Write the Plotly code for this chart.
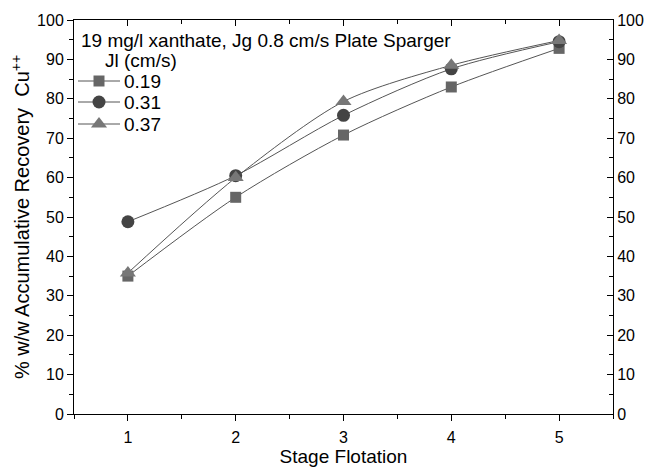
import plotly.graph_objects as go

stages = [1, 2, 3, 4, 5]
rec_019 = [35.0, 55.0, 70.8, 83.0, 92.8]
rec_031 = [48.8, 60.5, 75.8, 87.6, 94.5]
rec_037 = [35.8, 60.0, 79.3, 88.5, 94.8]
series_names = ["0.19", "0.31", "0.37"]

FONT = "Liberation Sans, Arial, sans-serif"

fig = go.Figure()
styles = [
    (rec_019, "square", "#666666", 11),
    (rec_031, "circle", "#444444", 13),
    (rec_037, "triangle-up", "#777777", 14),
]
for name, (vals, sym, col, sz) in zip(series_names, styles):
    fig.add_trace(go.Scatter(
        x=stages, y=vals, name=name, mode="lines+markers", showlegend=False,
        line=dict(color="#555555", width=1, shape="spline", smoothing=0.8),
        marker=dict(symbol=sym, color=col, size=sz, line=dict(width=0)),
    ))

# invisible trace for secondary axes
fig.add_trace(go.Scatter(x=[1], y=[0], xaxis="x2", yaxis="y2", mode="markers",
                         marker=dict(opacity=0), showlegend=False, hoverinfo="skip"))

# hand-built legend key (pixel-like overlay axes)
leg_rows = [81, 102, 124]
annotations = [
    dict(text="19 mg/l xanthate, Jg 0.8 cm/s Plate Sparger", xref="x3", yref="y3",
         x=79, y=40, xanchor="left", yanchor="middle", showarrow=False,
         font=dict(family=FONT, size=19)),
    dict(text="Jl (cm/s)", xref="x3", yref="y3",
         x=103, y=60, xanchor="left", yanchor="middle", showarrow=False,
         font=dict(family=FONT, size=19)),
]
for name, (vals, sym, col, sz), ry in zip(series_names, styles, leg_rows):
    fig.add_trace(go.Scatter(x=[78, 120], y=[ry, ry], xaxis="x3", yaxis="y3", mode="lines",
                             line=dict(color="#555555", width=1), showlegend=False,
                             hoverinfo="skip"))
    fig.add_trace(go.Scatter(x=[99], y=[ry], xaxis="x3", yaxis="y3", mode="markers",
                             marker=dict(symbol=sym, color=col, size=sz, line=dict(width=0)),
                             showlegend=False, hoverinfo="skip"))
    annotations.append(dict(text=name, xref="x3", yref="y3", x=122, y=ry,
                            xanchor="left", yanchor="middle", showarrow=False,
                            font=dict(family=FONT, size=19)))

axis_common = dict(showline=True, linecolor="black", linewidth=1, showgrid=False,
                   zeroline=False, tickcolor="black", ticklen=6, automargin=False,
                   tickfont=dict(family=FONT, size=16, color="black"))

fig.update_layout(
    width=644, height=461,
    margin=dict(l=66, r=39, t=12, b=55),
    plot_bgcolor="white", paper_bgcolor="white",
    font=dict(family=FONT, color="black"),
    showlegend=False,
    xaxis=dict(range=[0.5, 5.5], tickvals=stages, ticks="outside", ticklabelstandoff=3,
               minor=dict(ticks="outside", dtick=0.5, ticklen=4, tickcolor="black"),
               title=dict(text="Stage Flotation", font=dict(family=FONT, size=19), standoff=2),
               **axis_common),
    yaxis=dict(range=[0, 100], dtick=10, ticks="outside",
               minor=dict(ticks="outside", dtick=5, ticklen=4, tickcolor="black"),
               title=dict(text="% w/w Accumulative Recovery  Cu<sup>++</sup>",
                          font=dict(family=FONT, size=20), standoff=10),
               **axis_common),
    xaxis2=dict(range=[0.5, 5.5], overlaying="x", side="top", tickvals=stages,
                ticks="inside", showticklabels=False,
                minor=dict(ticks="inside", dtick=0.5, ticklen=4, tickcolor="black"),
                **axis_common),
    yaxis2=dict(range=[0, 100], overlaying="y", side="right", dtick=10, ticks="inside",
                minor=dict(ticks="inside", dtick=5, ticklen=4, tickcolor="black"),
                **axis_common),
    xaxis3=dict(range=[74, 613], overlaying="x", visible=False, fixedrange=True),
    yaxis3=dict(range=[414, 20], overlaying="y", visible=False, fixedrange=True),
    annotations=annotations,
)

fig.write_html("out.html")
